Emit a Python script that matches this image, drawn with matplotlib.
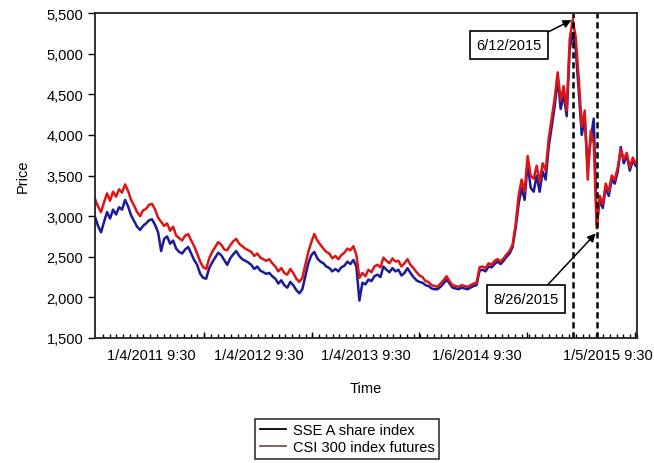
import numpy as np
import matplotlib.pyplot as plt
from matplotlib.lines import Line2D

plt.rcParams['font.family'] = ['Liberation Sans', 'DejaVu Sans']

# Sampled index levels (one value per sampling step, mid-2010 to Aug 2015)
csi300_futures = [
    3210, 3120, 3050, 3170, 3280, 3190, 3300, 3240, 3330, 3290,
    3390, 3310, 3200, 3130, 3050, 3000, 3070, 3090, 3140, 3150,
    3080, 2980, 2930, 2880, 2910, 2820, 2870, 2760, 2730, 2700,
    2760, 2780, 2700, 2630, 2540, 2440, 2370, 2350, 2480, 2560,
    2620, 2680, 2650, 2590, 2580, 2640, 2690, 2720, 2660, 2630,
    2600, 2580, 2560, 2510, 2540, 2490, 2470, 2450, 2470, 2420,
    2380, 2320, 2360, 2300, 2280, 2350, 2300, 2230, 2190, 2240,
    2400, 2560, 2680, 2780, 2700, 2650, 2600, 2560, 2540, 2480,
    2510, 2470, 2520, 2550, 2600, 2580, 2630, 2520, 2240, 2300,
    2260, 2340, 2310, 2380, 2400, 2370, 2490, 2450, 2420, 2480,
    2440, 2450, 2380, 2420, 2470, 2400, 2360, 2310, 2270, 2250,
    2200, 2190, 2150, 2140, 2130, 2170, 2210, 2260, 2200, 2150,
    2140, 2130, 2150, 2140, 2130, 2150, 2170, 2180, 2370, 2380,
    2360, 2420, 2400, 2450, 2470, 2440, 2480, 2530, 2570, 2650,
    2900, 3250, 3450, 3300, 3740, 3500, 3460, 3620, 3420, 3650,
    3560, 3950, 4200, 4450, 4770, 4420, 4600, 4300, 5180, 5420,
    5200, 4700, 4100, 4300, 3450, 4050, 3900, 2850, 3250, 3150,
    3400, 3300, 3500, 3450, 3600, 3820, 3700, 3780, 3600, 3720,
    3650,
]

sse_a_share = [
    2990, 2880, 2800, 2930, 3050, 2970, 3080, 3020, 3110, 3080,
    3200, 3120, 3010, 2940, 2870, 2830, 2880, 2910, 2950, 2960,
    2890, 2800, 2570, 2720, 2750, 2660, 2700, 2600, 2560, 2540,
    2590, 2620, 2540, 2460, 2400, 2290, 2240, 2230, 2360, 2430,
    2490, 2550, 2520, 2460, 2400, 2480, 2530, 2570, 2510, 2470,
    2450, 2430, 2400, 2350, 2380, 2330, 2310, 2290, 2300, 2260,
    2230, 2170, 2210, 2150, 2120, 2190, 2150, 2090, 2050, 2100,
    2260, 2420, 2520, 2560, 2480, 2440, 2420, 2380, 2360, 2320,
    2350, 2320, 2370, 2390, 2440, 2410, 2460, 2380, 1960, 2180,
    2160, 2220, 2200, 2260, 2280, 2250, 2380, 2340, 2310, 2360,
    2320, 2340, 2270, 2300, 2360, 2300, 2250, 2210, 2190, 2180,
    2150, 2140, 2110, 2100, 2100, 2130, 2170, 2220, 2170, 2120,
    2110, 2100, 2120, 2110, 2100, 2120, 2140, 2150, 2330, 2340,
    2320, 2380, 2370, 2410, 2440, 2410, 2450, 2500, 2540, 2620,
    2850, 3150, 3350, 3200, 3650, 3350, 3300, 3500, 3300, 3550,
    3450, 3850, 4100, 4350, 4690, 4320, 4500, 4230, 5050, 5250,
    5050, 4550, 4000, 4200, 3600, 3950, 4200, 2900, 3200, 3100,
    3350, 3250, 3450, 3400, 3550, 3850, 3650, 3750, 3560, 3680,
    3620,
]

tick_labels = ['1/4/2011 9:30', '1/4/2012 9:30', '1/4/2013 9:30',
               '1/6/2014 9:30', '1/5/2015 9:30']
tick_pos = [18.7, 54.7, 90.3, 127.0, 170.7]

# observation indices of the two marked dates
peak_idx = 159      # 6/12/2015
crash_idx = 167     # 8/26/2015

x = np.arange(len(csi300_futures))

fig = plt.figure(figsize=(6.54, 4.64), dpi=100)
ax = fig.add_axes([0.1453, 0.2694, 0.8287, 0.7004])

ax.plot(x, sse_a_share, color='#1a1a9a', lw=1.8)
ax.plot(x, csi300_futures, color='#dd1515', lw=1.8)

ax.axvline(peak_idx, color='black', lw=1.8, ls=(0, (2.5, 1.5)))
ax.axvline(crash_idx, color='black', lw=1.8, ls=(0, (2.5, 1.5)))

ax.set_xlim(0, 180.4)
ax.set_ylim(1500, 5500)
ax.set_yticks(np.arange(1500, 5501, 500))
ax.set_yticklabels([f'{v:,}' for v in range(1500, 5501, 500)])

ax.set_xticks(tick_pos)
ax.set_xticklabels(tick_labels)
ax.set_xticks(np.arange(36.33 - 16 * 2.25, 180.4, 2.25)[1:], minor=True)
ax.tick_params(axis='x', which='major', length=0, pad=7, labelsize=10.5)
ax.tick_params(axis='x', which='minor', direction='in', length=3, width=1)
ax.tick_params(axis='y', direction='out', length=5, width=1, labelsize=10.5)

# longer ticks at year boundaries
year_ticks = np.arange(36.33, 180.4, 35.83)
ax.vlines(year_ticks, 0, 0.017, transform=ax.get_xaxis_transform(),
          color='black', lw=1)

for s in ax.spines.values():
    s.set_linewidth(1.3)
    s.set_color('#222222')

ax.set_xlabel('Time', fontsize=10.5, labelpad=14)
ax.set_ylabel('Price', fontsize=10.5, labelpad=12)

box = dict(boxstyle='square,pad=0.45', fc='white', ec='black', lw=1.2)
arrow = dict(arrowstyle='-|>', color='black', lw=1.1, mutation_scale=12,
             shrinkA=0, shrinkB=1)
ax.annotate('6/12/2015', xy=(peak_idx, 5420), xytext=(509, 418),
            textcoords='figure pixels', ha='center', va='center',
            fontsize=10.5, bbox=box,
            arrowprops=dict(arrow, relpos=(0.92, 1.0)))
ax.annotate('8/26/2015', xy=(crash_idx, 2800), xytext=(526, 164),
            textcoords='figure pixels', ha='center', va='center',
            fontsize=10.5, bbox=box,
            arrowprops=dict(arrow, relpos=(0.73, 1.0)))

handles = [Line2D([], [], color='black', lw=1.3),
           Line2D([], [], color='#7d5555', lw=1.3)]
leg = fig.legend(handles, ['SSE A share index', 'CSI 300 index futures'],
                 loc='center', bbox_to_anchor=(0.531, 0.052), fontsize=10.5,
                 frameon=True, fancybox=False, handlelength=1.8,
                 borderpad=0.3, labelspacing=0.2, handletextpad=0.5)
leg.get_frame().set_edgecolor('black')
leg.get_frame().set_linewidth(1.2)

fig.savefig('out.png', dpi=100)
